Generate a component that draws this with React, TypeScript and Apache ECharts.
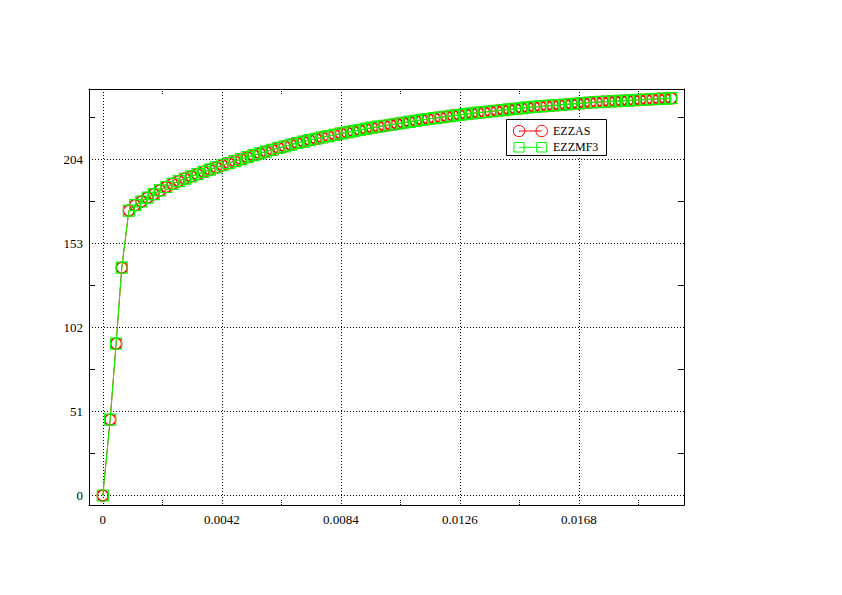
import React, { useEffect, useRef } from "react";
import * as echarts from "echarts";

const xValues = [
  0, 0.00026, 0.00047, 0.00067, 0.00092,
  0.00114, 0.00136, 0.00158, 0.0018, 0.00202, 0.00224, 0.00246, 0.00268, 0.0029, 0.00312,
  0.00334, 0.00356, 0.00378, 0.004, 0.00422, 0.00444, 0.00466, 0.00488, 0.0051, 0.00532,
  0.00554, 0.00576, 0.00598, 0.0062, 0.00642, 0.00664, 0.00686, 0.00708, 0.0073, 0.00752,
  0.00774, 0.00796, 0.00818, 0.0084, 0.00862, 0.00884, 0.00906, 0.00928, 0.0095, 0.00972,
  0.00994, 0.01016, 0.01038, 0.0106, 0.01082, 0.01104, 0.01126, 0.01148, 0.0117, 0.01192,
  0.01214, 0.01236, 0.01258, 0.0128, 0.01302, 0.01324, 0.01346, 0.01368, 0.0139, 0.01412,
  0.01434, 0.01456, 0.01478, 0.015, 0.01522, 0.01544, 0.01566, 0.01588, 0.0161, 0.01632,
  0.01654, 0.01676, 0.01698, 0.0172, 0.01742, 0.01764, 0.01786, 0.01808, 0.0183, 0.01852,
  0.01874, 0.01896, 0.01918, 0.0194, 0.01962, 0.01984, 0.02006,
];

const ezzasY = [
  0, 46.1, 92.2, 138.3, 173,
  176.3, 178.5, 180.8, 183, 185.3, 187.3, 189.2, 190.9, 192.4, 193.7,
  195.1, 196.5, 197.9, 199.2, 200.5, 201.8, 203, 204.2, 205.4, 206.6,
  207.7, 208.8, 209.9, 211, 212, 213, 214, 214.9, 215.8, 216.6,
  217.4, 218.2, 219, 219.8, 220.5, 221.2, 221.9, 222.6, 223.3, 223.9,
  224.5, 225.1, 225.7, 226.3, 226.9, 227.5, 228.1, 228.6, 229.1, 229.6,
  230.1, 230.6, 231.1, 231.6, 232, 232.4, 232.8, 233.2, 233.6, 234,
  234.4, 234.8, 235.2, 235.6, 235.9, 236.2, 236.5, 236.8, 237.1, 237.4,
  237.7, 238, 238.3, 238.6, 238.8, 239, 239.2, 239.4, 239.6, 239.8,
  240, 240.2, 240.4, 240.6, 240.8, 241, 241.2,
];

const ezzmf3Y = [
  0, 46.1, 92.2, 138.3, 173,
  176.3, 178.5, 180.8, 183, 185.3, 187.3, 189.2, 190.9, 192.4, 193.7,
  195.1, 196.5, 197.9, 199.2, 200.5, 201.8, 203, 204.2, 205.4, 206.6,
  207.7, 208.8, 209.9, 211, 212, 213, 214, 214.9, 215.8, 216.6,
  217.4, 218.2, 219, 219.8, 220.5, 221.2, 221.9, 222.6, 223.3, 223.9,
  224.5, 225.1, 225.7, 226.3, 226.9, 227.5, 228.1, 228.6, 229.1, 229.6,
  230.1, 230.6, 231.1, 231.6, 232, 232.4, 232.8, 233.2, 233.6, 234,
  234.4, 234.8, 235.2, 235.6, 235.9, 236.2, 236.5, 236.8, 237.1, 237.4,
  237.7, 238, 238.3, 238.6, 238.8, 239, 239.2, 239.4, 239.6, 239.8,
  240, 240.2, 240.4, 240.6, 240.8, 241, 241.2,
];

const xMajorTicks = [0, 0.0042, 0.0084, 0.0126, 0.0168];
const xMinorTicks = [0.0021, 0.0063, 0.0105, 0.0147, 0.0189];
const yMajorTicks = [0, 51, 102, 153, 204];
const yMinorTicks = [25.5, 76.5, 127.5, 178.5, 229.5];

const seriesNames = ["EZZAS", "EZZMF3"];

const X_MIN = -0.000487;
const X_MAX = 0.02051;
const Y_MIN = -5.77;
const Y_MAX = 246.8;

const FONT = "'Liberation Serif', 'Times New Roman', serif";

export default function App() {
  const ref = useRef<HTMLDivElement>(null);

  useEffect(() => {
    if (!ref.current) return;
    const chart = echarts.init(ref.current, undefined, { renderer: "svg" });

    const dataA = xValues.map((x, i) => [x, ezzasY[i]]);
    const dataB = xValues.map((x, i) => [x, ezzmf3Y[i]]);

    const dotted = { type: [1, 2] as any, color: "#000", width: 1 };

    const legendZ = 200;

    const option: any = {
      animation: false,
      backgroundColor: "#fff",
      grid: { left: 89, top: 89, width: 595, height: 416, containLabel: false },
      xAxis: [
        {
          type: "value",
          position: "bottom",
          min: X_MIN,
          max: X_MAX,
          axisLine: { show: true, onZero: false, lineStyle: { color: "#000", width: 1 } },
          axisTick: { show: false, customValues: xMajorTicks },
          axisLabel: {
            customValues: xMajorTicks,
            color: "#000",
            fontFamily: FONT,
            fontSize: 13,
            margin: 8,
            formatter: (v: number) => String(parseFloat(v.toFixed(5))),
          },
          splitLine: { show: true, lineStyle: dotted },
        },
        {
          type: "value",
          position: "bottom",
          min: X_MIN,
          max: X_MAX,
          axisLine: { show: false, onZero: false },
          axisTick: {
            show: true,
            inside: true,
            length: 5,
            customValues: xMinorTicks,
            lineStyle: { type: [1, 1], color: "#000", width: 1 },
          },
          axisLabel: { show: false },
          splitLine: { show: false },
        },
        {
          type: "value",
          position: "top",
          min: X_MIN,
          max: X_MAX,
          axisLine: { show: true, onZero: false, lineStyle: { color: "#000", width: 1 } },
          axisTick: {
            show: true,
            inside: true,
            length: 5,
            customValues: xMinorTicks,
            lineStyle: { type: [1, 1], color: "#000", width: 1 },
          },
          axisLabel: { show: false },
          splitLine: { show: false },
        },
      ],
      yAxis: [
        {
          type: "value",
          position: "left",
          min: Y_MIN,
          max: Y_MAX,
          axisLine: { show: true, onZero: false, lineStyle: { color: "#000", width: 1 } },
          axisTick: { show: false, customValues: yMajorTicks },
          axisLabel: {
            customValues: yMajorTicks,
            color: "#000",
            fontFamily: FONT,
            fontSize: 13,
            margin: 6,
            formatter: (v: number) => String(v),
          },
          splitLine: { show: true, lineStyle: dotted },
        },
        {
          type: "value",
          position: "left",
          min: Y_MIN,
          max: Y_MAX,
          axisLine: { show: false, onZero: false },
          axisTick: {
            show: true,
            inside: true,
            length: 6,
            customValues: yMinorTicks,
            lineStyle: { color: "#000", width: 1 },
          },
          axisLabel: { show: false },
          splitLine: { show: false },
        },
        {
          type: "value",
          position: "right",
          min: Y_MIN,
          max: Y_MAX,
          axisLine: { show: true, onZero: false, lineStyle: { color: "#000", width: 1 } },
          axisTick: {
            show: true,
            inside: true,
            length: 6,
            customValues: yMinorTicks,
            lineStyle: { color: "#000", width: 1 },
          },
          axisLabel: { show: false },
          splitLine: { show: false },
        },
      ],
      series: [
        {
          name: seriesNames[0],
          type: "line",
          xAxisIndex: 0,
          yAxisIndex: 0,
          data: dataA,
          symbol: "circle",
          symbolSize: 11,
          showAllSymbol: true,
          lineStyle: { color: "#ff0000", width: 1 },
          itemStyle: { color: "rgba(0,0,0,0)", borderColor: "#ff0000", borderWidth: 1.5 },
          emphasis: { disabled: true },
          z: 2,
        },
        {
          name: seriesNames[1],
          type: "line",
          xAxisIndex: 0,
          yAxisIndex: 0,
          data: dataB,
          symbol: "rect",
          symbolSize: 11,
          showAllSymbol: true,
          lineStyle: { color: "#00ff00", width: 1 },
          itemStyle: { color: "rgba(0,0,0,0)", borderColor: "#00ff00", borderWidth: 1.2 },
          emphasis: { disabled: true },
          z: 3,
        },
      ],
      graphic: [
        {
          type: "rect",
          z: legendZ,
          shape: { x: 506.5, y: 119.5, width: 100, height: 36 },
          style: { fill: "#fff", stroke: "#000", lineWidth: 1 },
        },
        {
          type: "line",
          z: legendZ + 1,
          shape: { x1: 519, y1: 131, x2: 541.7, y2: 131 },
          style: { stroke: "#ff0000", lineWidth: 1 },
        },
        {
          type: "circle",
          z: legendZ + 1,
          shape: { cx: 519, cy: 131, r: 5.7 },
          style: { fill: "none", stroke: "#ff0000", lineWidth: 1 },
        },
        {
          type: "circle",
          z: legendZ + 1,
          shape: { cx: 541.7, cy: 131, r: 5.7 },
          style: { fill: "none", stroke: "#ff0000", lineWidth: 1 },
        },
        {
          type: "text",
          z: legendZ + 1,
          x: 553,
          y: 131,
          style: {
            text: seriesNames[0],
            fill: "#000",
            font: `12px ${FONT}`,
            verticalAlign: "middle",
            align: "left",
          },
        },
        {
          type: "line",
          z: legendZ + 1,
          shape: { x1: 519, y1: 147.3, x2: 541.7, y2: 147.3 },
          style: { stroke: "#00ff00", lineWidth: 1 },
        },
        {
          type: "rect",
          z: legendZ + 1,
          shape: { x: 514, y: 142.5, width: 10, height: 9.5 },
          style: { fill: "none", stroke: "#00ff00", lineWidth: 1 },
        },
        {
          type: "rect",
          z: legendZ + 1,
          shape: { x: 536.7, y: 142.5, width: 10, height: 9.5 },
          style: { fill: "none", stroke: "#00ff00", lineWidth: 1 },
        },
        {
          type: "text",
          z: legendZ + 1,
          x: 553,
          y: 147.3,
          style: {
            text: seriesNames[1],
            fill: "#000",
            font: `12px ${FONT}`,
            verticalAlign: "middle",
            align: "left",
          },
        },
      ],
    };

    chart.setOption(option);
    return () => {
      chart.dispose();
    };
  }, []);

  return (
    <div
      ref={ref}
      style={{ position: "absolute", left: 0, top: 0, width: 842, height: 595, background: "#fff" }}
    />
  );
}
